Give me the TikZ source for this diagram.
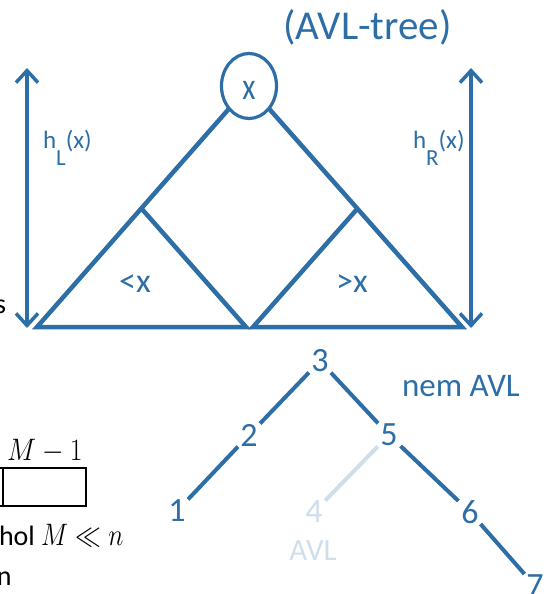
\RequirePackage{fix-cm}
\documentclass[tikz,border=0pt]{standalone}
\usepackage{fontspec}
\setmainfont{Carlito}
\usetikzlibrary{arrows.meta,shapes.geometric}
\definecolor{avlblue}{RGB}{46,110,166}
\definecolor{avllight}{RGB}{208,222,236}
\newcommand{\fsz}[1]{\fontsize{#1}{#1}\selectfont}
\begin{document}
\begin{tikzpicture}[x=1pt,y=-1pt,
  bluetext/.style={text=avlblue, inner sep=0pt, outer sep=0pt},
  blacktext/.style={text=black, inner sep=0pt, outer sep=0pt},
  tri/.style={draw=avlblue, line width=4.5pt, line join=miter},
  dimarrow/.style={draw=avlblue, line width=3.5pt,
    {Straight Barb[length=12pt,width=22pt]}-{Straight Barb[length=12pt,width=22pt]}},
  digit/.style={circle, minimum size=32pt, inner sep=0pt, outer sep=0pt, text=avlblue, font=\fsz{34}},
  lightdigit/.style={digit, text=avllight},
  tedge/.style={draw=avlblue, line width=4pt},
  lightedge/.style={draw=avllight, line width=4pt},
  cellbox/.style={draw=black, line width=1.3pt, minimum height=38pt, inner sep=0pt, outer sep=0pt}
]
\clip (0,0) rectangle (553,594);

% title
\node[bluetext, anchor=base] (title) at (367.5,40) {\fsz{41}(AVL-tree)};

% root
\node[ellipse, draw=avlblue, line width=3.2pt, minimum width=55pt, minimum height=65pt,
      inner sep=0pt, outer sep=0pt] (root) at (249,86) {};
\node[bluetext] (rootx) at (249,90) {\fsz{38}\scalebox{0.8}[1]{x}};

% subtree corners
\coordinate (Lbl) at (37,327);
\coordinate (Lbr) at (246,327);
\coordinate (Lapex) at (141,208);
\coordinate (Rbl) at (253,327);
\coordinate (Rbr) at (462,327);
\coordinate (Rapex) at (358,208);

\draw[tri] (root) -- (Lbl) -- (Lbr) -- (Lapex);
\draw[tri] (root) -- (Rbr) -- (Rbl) -- (Rapex);

\node[bluetext, anchor=base] (lt) at (135,292) {\fsz{34}<x};
\node[bluetext, anchor=base] (gt) at (352,292) {\fsz{34}>x};

% height arrows
\coordinate (aLt) at (27,68);
\coordinate (aLb) at (27,328);
\coordinate (aRt) at (471,68);
\coordinate (aRb) at (471,328);
\draw[dimarrow] (aLt) -- (aLb);
\draw[dimarrow] (aRt) -- (aRb);

\node[bluetext, anchor=base west] (hL) at (43,148) {\fsz{25}h\raisebox{-17pt}{\fsz{23}L}(x)};
\node[bluetext, anchor=base west] (hR) at (413,148) {\fsz{25}h\raisebox{-17pt}{\fsz{23}R}(x)};

% lower tree
\node[digit] (n3) at (320,361) {3};
\node[digit] (n2) at (249,435) {2};
\node[digit] (n1) at (177,511) {1};
\node[lightdigit] (n4) at (314,512) {4};
\node[digit] (n5) at (389,435) {5};
\node[digit] (n6) at (470,512) {6};
\node[digit] (n7) at (535,586) {7};

\draw[tedge] (n3) -- (n2);
\draw[tedge] (n2) -- (n1);
\draw[tedge] (n3) -- (n5);
\draw[lightedge] (n5) -- (n4);
\draw[tedge] (n5) -- (n6);
\draw[tedge] (n6) -- (n7);

\node[bluetext, anchor=base west] (nemavl) at (402,396) {\fsz{33}nem AVL};
\node[bluetext, text=avllight, anchor=base] (avl) at (313,560) {\fsz{31}AVL};

% cut-off black text at the left
\node[blacktext, anchor=base east] (s) at (6,313) {\fsz{28}s};
\node[blacktext, anchor=base west] (m1) at (7,460) {\fsz{23}\scalebox{1.2}[1.35]{$M-1$}};
\node[cellbox, minimum width=83pt] (cell) at (44.5,487) {};
\node[cellbox, minimum width=83pt, anchor=east] (cell0) at (cell.west) {};
\node[blacktext, anchor=base west] (hol) at (-1,545) {\fsz{28}hol {\fsz{23}\scalebox{1.12}[1.35]{$M \ll n$}}};
\node[blacktext, anchor=base west] (nn) at (-3,585) {\fsz{28}n};
\end{tikzpicture}
\end{document}
